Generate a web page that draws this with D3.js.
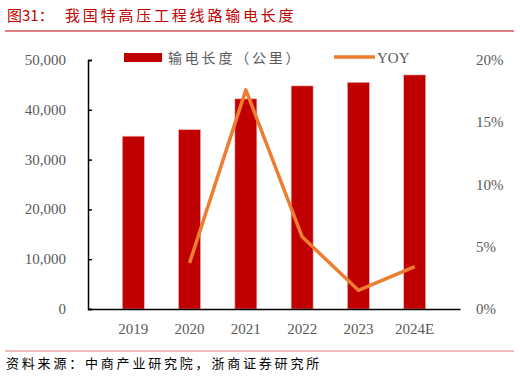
<!DOCTYPE html>
<html><head><meta charset="utf-8">
<script src="https://cdn.jsdelivr.net/npm/d3@7"></script>
<style>body{margin:0;background:#fff}svg{display:block}</style>
</head><body>
<script>
const categories = ["2019","2020","2021","2022","2023","2024E"];
const lengthKm = [34700, 36000, 42200, 44800, 45500, 47000];
const yoy = [null, 3.7, 17.6, 5.8, 1.5, 3.4];
const leftTicks = [0,10000,20000,30000,40000,50000];
const rightTicks = [0,5,10,15,20];
const titleLabel = "图31：";
const title = "我国特高压工程线路输电长度";
const source = "资料来源：中商产业研究院，浙商证券研究所";
const legendNames = ["输电长度（公里）","YOY"];

const W=520,H=379;
const svg=d3.select("body").append("svg").attr("width",W).attr("height",H);
const serif="'Liberation Serif','Times New Roman',serif";
const cjk="'Noto Sans CJK SC','Noto Sans',sans-serif";

svg.append("text").attr("x",7).attr("y",21).attr("fill","#c00000")
  .style("font-family",cjk).style("font-size","15px").text(titleLabel);
svg.append("text").attr("x",65).attr("y",21).attr("fill","#c00000")
  .style("font-family",cjk).style("font-size","15px").style("letter-spacing","2.8px").text(title);
svg.append("line").attr("x1",5).attr("x2",514).attr("y1",31).attr("y2",31)
  .attr("stroke","#c00000").attr("stroke-width",1);

const pLeft=88,pRight=460,pTop=60,pBottom=309;
const x=d3.scaleBand().domain(categories).range([pLeft,pRight]).padding(0.61);
const yL=d3.scaleLinear().domain([0,50000]).range([pBottom,pTop]);
const yR=d3.scaleLinear().domain([0,20]).range([pBottom,pTop]);

svg.append("g").selectAll("rect").data(lengthKm).join("rect")
  .attr("x",(d,i)=>x(categories[i])).attr("width",x.bandwidth())
  .attr("y",d=>yL(d)).attr("height",d=>pBottom-yL(d))
  .attr("fill","#c00000").attr("stroke","#f0b0b0").attr("stroke-width",0.6);

const line=d3.line().defined(d=>d!=null)
  .x((d,i)=>x(categories[i])+x.bandwidth()/2).y(d=>yR(d));
svg.append("path").datum(yoy).attr("d",line).attr("fill","none")
  .attr("stroke","#ed7d31").attr("stroke-width",3.5).attr("stroke-linejoin","round");

// left axis
const gL=svg.append("g").attr("transform",`translate(${pLeft},0)`)
  .call(d3.axisRight(yL).tickValues(leftTicks).tickSize(4).tickFormat(""));
gL.select(".domain").attr("stroke","#000").attr("stroke-width",1.5);
gL.selectAll(".tick line").attr("stroke","#000").attr("stroke-width",1.5);
svg.append("g").selectAll("text").data(leftTicks).join("text")
  .attr("x",66).attr("y",d=>yL(d)+5).attr("text-anchor","end")
  .attr("fill","#595959").style("font-family",serif).style("font-size","15px")
  .text(d=>d3.format(",")(d));

// x axis
const gX=svg.append("g").attr("transform",`translate(0,${pBottom})`)
  .call(d3.axisBottom(x).tickSize(0).tickPadding(14));
gX.select(".domain").attr("stroke","#000").attr("stroke-width",1.5);
gX.selectAll("text").attr("fill","#595959").style("font-family",serif).style("font-size","15px");

// right axis labels
svg.append("g").selectAll("text").data(rightTicks).join("text")
  .attr("x",476).attr("y",d=>yR(d)+5).attr("text-anchor","start")
  .attr("fill","#595959").style("font-family",serif).style("font-size","15px")
  .text(d=>d+"%");

// legend
svg.append("rect").attr("x",124).attr("y",53).attr("width",38).attr("height",9).attr("fill","#c00000");
svg.append("text").attr("x",168).attr("y",63).attr("fill","#595959")
  .style("font-family",cjk).style("font-size","14px").style("letter-spacing","2.8px").text(legendNames[0]);
svg.append("line").attr("x1",334).attr("x2",375).attr("y1",57).attr("y2",57)
  .attr("stroke","#ed7d31").attr("stroke-width",3.5);
svg.append("text").attr("x",377).attr("y",63).attr("fill","#595959")
  .style("font-family",serif).style("font-size","15px").text(legendNames[1]);

// footer
svg.append("line").attr("x1",5).attr("x2",514).attr("y1",351).attr("y2",351)
  .attr("stroke","#e07b7b").attr("stroke-width",1.2);
svg.append("text").attr("x",6).attr("y",368).attr("fill","#000")
  .style("font-family",cjk).style("font-size","13px").style("letter-spacing","2.8px").text(source);
</script>
</body></html>
